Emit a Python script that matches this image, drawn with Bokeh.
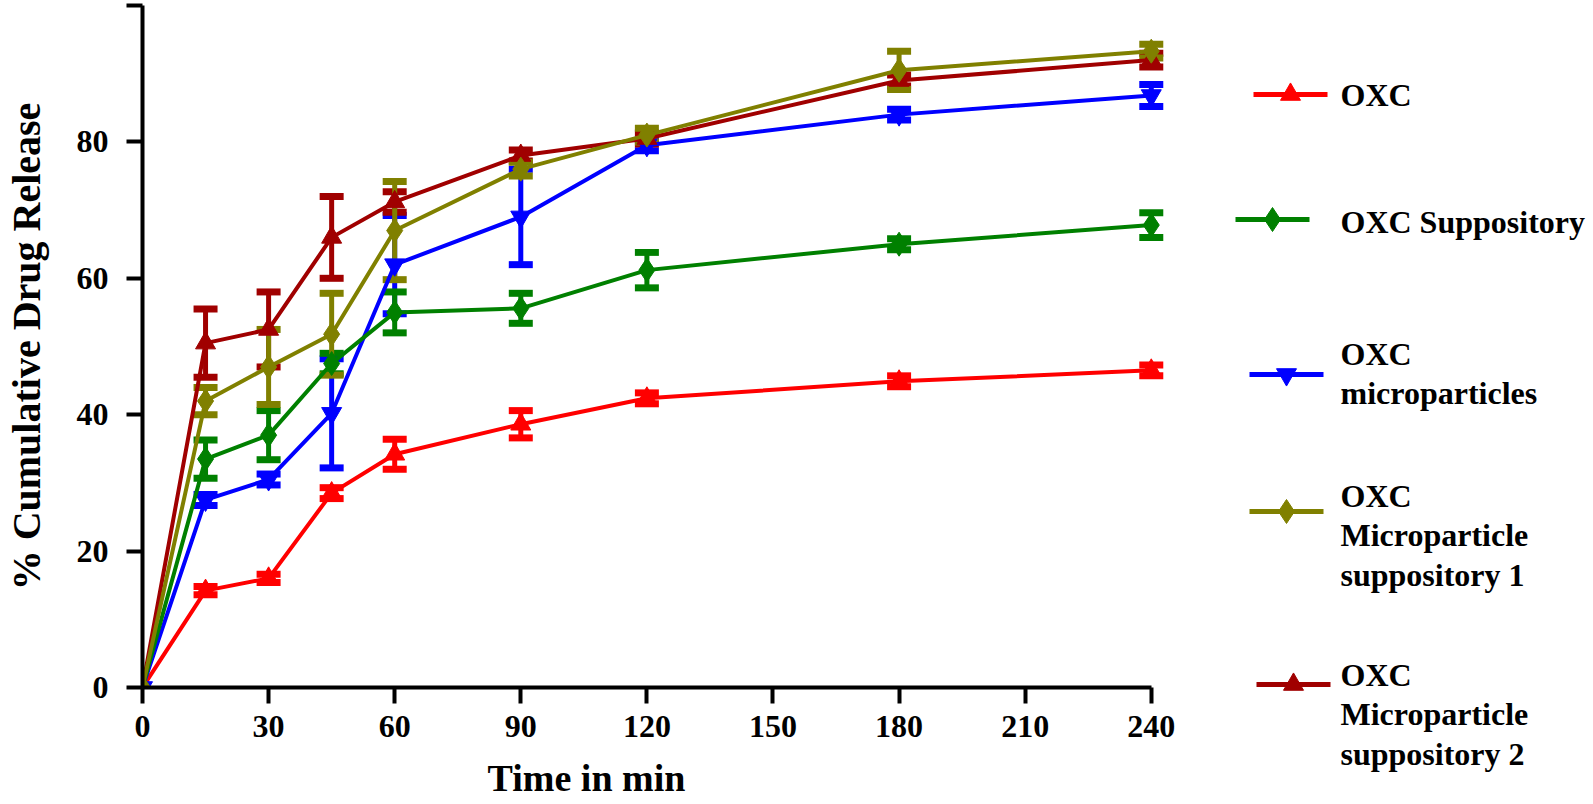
from bokeh.plotting import figure
from bokeh.layouts import row, column
from bokeh.models import Range1d, ColumnDataSource, Whisker, TeeHead, FixedTicker
from bokeh.core.properties import value
from bokeh.embed import file_html
from bokeh.resources import INLINE

# ---------------- data ----------------
time_min = [0, 15, 30, 45, 60, 90, 120, 180, 240]

oxc = [0, 14.2, 16.0, 28.5, 34.2, 38.6, 42.4, 44.9, 46.5]
oxc_err = [0, 0.6, 0.6, 0.8, 2.2, 2.0, 0.8, 0.8, 0.8]

oxc_supp = [0, 33.5, 37.0, 47.5, 55.0, 55.6, 61.2, 65.0, 67.8]
oxc_supp_err = [0, 2.8, 3.6, 1.5, 3.0, 2.2, 2.6, 0.8, 1.8]

oxc_micro = [0, 27.5, 30.5, 40.2, 62.0, 69.0, 79.5, 84.0, 86.8]
oxc_micro_err = [0, 0.8, 0.8, 8.0, 7.2, 7.0, 0.8, 0.8, 1.6]

oxc_ms1 = [0, 42.0, 47.0, 51.8, 67.0, 76.0, 81.0, 90.5, 93.3]
oxc_ms1_err = [0, 2.0, 5.5, 6.0, 7.2, 1.0, 1.0, 2.8, 1.0]

oxc_ms2 = [0, 50.5, 52.5, 66.0, 71.2, 78.0, 80.5, 89.0, 92.0]
oxc_ms2_err = [0, 5.0, 5.5, 6.0, 1.5, 0.8, 0.8, 0.8, 1.0]

x_ticks = [0, 30, 60, 90, 120, 150, 180, 210, 240]
y_ticks = [0, 20, 40, 60, 80, 100]
x_title = "Time in min"
y_title = "% Cumulative Drug Release"

series_names = ["OXC", "OXC Suppository", "OXC microparticles",
                "OXC Microparticle suppository 1", "OXC Microparticle suppository 2"]
legend_lines = [["OXC"], ["OXC Suppository"], ["OXC", "microparticles"],
                ["OXC", "Microparticle", "suppository 1"],
                ["OXC", "Microparticle", "suppository 2"]]
colors = ["#FF0000", "#008000", "#0000FF", "#808000", "#A00000"]
markers = ["triangle", "diamond", "inverted_triangle", "diamond", "triangle"]
values = [oxc, oxc_supp, oxc_micro, oxc_ms1, oxc_ms2]
errors = [oxc_err, oxc_supp_err, oxc_micro_err, oxc_ms1_err, oxc_ms2_err]
marker_sizes = [20, 24, 20, 24, 20]

FONT = "Liberation Serif"

# ---------------- main plot ----------------
p = figure(width=1186, height=752, output_backend="svg", toolbar_location=None,
           x_range=Range1d(0, 246), y_range=Range1d(0, 100),
           min_border_left=142, min_border_right=10, min_border_top=5,
           min_border_bottom=65, frame_align=False)
p.outline_line_color = None
p.xgrid.visible = False
p.ygrid.visible = False
p.background_fill_color = "white"

draw_order = [0, 2, 1, 4, 3]
for i in draw_order:
    c = colors[i]
    src = ColumnDataSource(dict(t=time_min, v=values[i]))
    p.line("t", "v", source=src, line_color=c, line_width=4)
    p.scatter("t", "v", source=src, marker=markers[i], size=marker_sizes[i],
              fill_color=c, line_color=c)
    t_e = time_min[1:]
    up = [v + e for v, e in zip(values[i][1:], errors[i][1:])]
    lo = [v - e for v, e in zip(values[i][1:], errors[i][1:])]
    esrc = ColumnDataSource(dict(t=t_e, upper=up, lower=lo))
    w = Whisker(base="t", upper="upper", lower="lower", source=esrc,
                line_color=c, line_width=5,
                upper_head=TeeHead(size=24, line_color=c, line_width=7),
                lower_head=TeeHead(size=24, line_color=c, line_width=7))
    p.add_layout(w)

for ax in (p.xaxis[0], p.yaxis[0]):
    ax.axis_line_width = 4
    ax.axis_line_color = "black"
    ax.major_tick_line_width = 4
    ax.major_tick_out = 16
    ax.major_tick_in = 0
    ax.minor_tick_line_color = None
    ax.major_label_text_font = FONT
    ax.major_label_text_font_style = "bold"
    ax.major_label_text_font_size = "32px"
    ax.major_label_text_color = "black"
    ax.axis_label_text_font = FONT
    ax.axis_label_text_font_style = "bold"
    ax.axis_label_text_font_size = "40px"
    ax.axis_label_text_color = "black"

p.xaxis.ticker = FixedTicker(ticks=x_ticks)
p.yaxis.ticker = FixedTicker(ticks=y_ticks)
p.yaxis.major_label_overrides = {100: ""}
p.xaxis.bounds = (0, 240)
p.yaxis.bounds = (0, 100)
p.yaxis.axis_label = y_title
p.xaxis.major_label_standoff = 12
p.yaxis.major_label_standoff = 18
p.yaxis.axis_label_standoff = 25

# ---------------- x-axis title strip (below the plot) ----------------
xt = figure(width=1186, height=48, output_backend="svg", toolbar_location=None,
            x_range=Range1d(0, 1186), y_range=Range1d(800, 752),
            min_border=0, frame_align=False)
xt.axis.visible = False
xt.xgrid.visible = False
xt.ygrid.visible = False
xt.outline_line_color = None
xt.text([586], [777], text=[x_title], text_font=value(FONT),
        text_font_style="bold", text_font_size="38px", text_color="black",
        text_align="center", text_baseline="middle")

# ---------------- legend panel ----------------
leg = figure(width=404, height=800, output_backend="svg", toolbar_location=None,
             x_range=Range1d(1186, 1590), y_range=Range1d(800, 0),
             min_border=0, frame_align=False)
leg.axis.visible = False
leg.xgrid.visible = False
leg.ygrid.visible = False
leg.outline_line_color = None

leg_y = [94, 219, 374, 511, 684]
leg_x0 = [1253, 1235, 1249, 1249, 1256]
leg_len = 74
text_x = 1340
text_first_y = [94, 221, 353, 495, 674]
line_gap = 39.5

for i in range(5):
    c = colors[i]
    x0 = leg_x0[i]
    leg.line([x0, x0 + leg_len], [leg_y[i], leg_y[i]], line_color=c, line_width=5)
    leg.scatter([x0 + leg_len / 2], [leg_y[i]], marker=markers[i],
                size=marker_sizes[i], fill_color=c, line_color=c)
    ys = [text_first_y[i] + k * line_gap for k in range(len(legend_lines[i]))]
    leg.text([text_x] * len(ys), ys, text=legend_lines[i],
             text_font=value(FONT), text_font_style="bold",
             text_font_size="32px", text_color="black",
             text_align="left", text_baseline="middle")

layout = row(column(p, xt), leg)
open("out.html", "w").write(file_html(layout, INLINE))
